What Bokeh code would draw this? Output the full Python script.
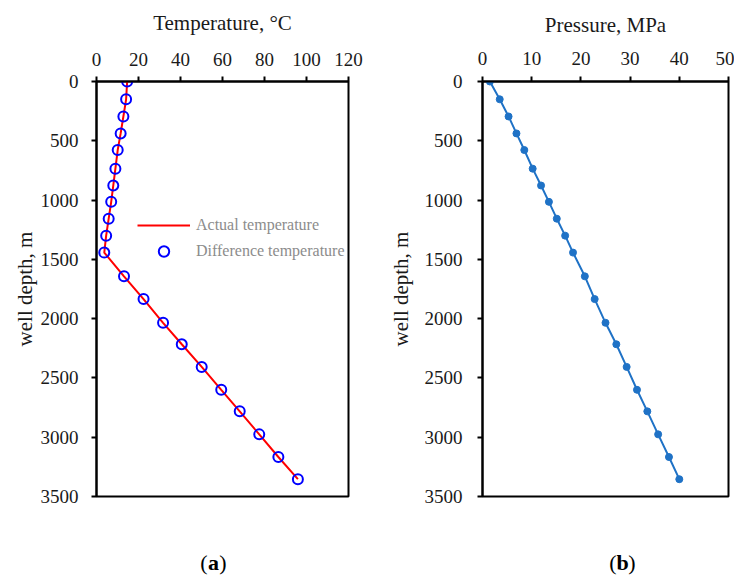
from bokeh.plotting import figure
from bokeh.layouts import row, column
from bokeh.models import Range1d, LinearAxis, FixedTicker, Legend, LegendItem
from bokeh.core.properties import value
from bokeh.embed import file_html
from bokeh.resources import INLINE

# ---- data ----
depth = [0, 150, 295, 438, 578, 735, 877, 1015, 1157, 1300, 1443,
         1643, 1835, 2035, 2216, 2407, 2600, 2782, 2976, 3167, 3354]
actual_temp = [14.6, 14.1, 12.8, 11.5, 10.1, 9.0, 8.0, 7.0, 5.8, 4.6, 3.7,
               13.1, 22.4, 31.7, 40.6, 50.1, 59.4, 68.2, 77.5, 86.6, 95.9]
diff_temp = [14.6, 14.1, 12.8, 11.5, 10.1, 9.0, 8.0, 7.0, 5.8, 4.6, 3.7,
             13.1, 22.4, 31.7, 40.6, 50.1, 59.4, 68.2, 77.5, 86.6, 95.9]
pressure = [1.5, 3.5, 5.3, 6.9, 8.5, 10.2, 11.9, 13.5, 15.1, 16.8, 18.4,
            20.8, 22.8, 25.0, 27.2, 29.3, 31.4, 33.5, 35.7, 37.9, 40.0]
temp_ticks = [0, 20, 40, 60, 80, 100, 120]
pres_ticks = [0, 10, 20, 30, 40, 50]
depth_ticks = [0, 500, 1000, 1500, 2000, 2500, 3000, 3500]

FONT = "Liberation Serif"


def base_fig(width, height, xmax, xticks, xlabel, mb_left, mb_right, mb_top, mb_bottom,
             xtick_standoff, xlabel_standoff, ytick_standoff, ylabel_standoff):
    p = figure(width=width, height=height, output_backend="svg", toolbar_location=None,
               x_range=Range1d(0, xmax), y_range=Range1d(3500, 0),
               x_axis_location=None, y_axis_location=None,
               min_border_left=mb_left, min_border_right=mb_right,
               min_border_top=mb_top, min_border_bottom=mb_bottom)
    p.grid.visible = False
    p.outline_line_color = "black"
    p.outline_line_width = 2
    p.outline_line_alpha = 1
    p.background_fill_color = "white"
    p.border_fill_color = "white"

    xa = LinearAxis(ticker=FixedTicker(ticks=xticks), axis_label=xlabel)
    ya = LinearAxis(ticker=FixedTicker(ticks=depth_ticks), axis_label="well depth, m")
    for ax in (xa, ya):
        ax.axis_line_color = "black"
        ax.axis_line_width = 2
        ax.major_tick_line_color = "black"
        ax.major_tick_line_width = 2
        ax.major_tick_in = 0
        ax.major_tick_out = 5
        ax.minor_tick_line_color = None
        ax.major_label_text_font = FONT
        ax.major_label_text_font_size = "19px"
        ax.major_label_text_color = "#1a1a1a"
        ax.axis_label_text_font = FONT
        ax.axis_label_text_font_size = "21px"
        ax.axis_label_text_font_style = "normal"
        ax.axis_label_text_color = "#1a1a1a"
    xa.major_label_standoff = xtick_standoff
    xa.axis_label_standoff = xlabel_standoff
    ya.major_label_standoff = ytick_standoff
    ya.axis_label_standoff = ylabel_standoff
    p.add_layout(xa, "above")
    p.add_layout(ya, "left")
    return p


def caption_fig(width, height, cx, cy, letter):
    c = figure(width=width, height=height, output_backend="svg", toolbar_location=None,
               x_range=Range1d(0, width), y_range=Range1d(height, 0),
               x_axis_location=None, y_axis_location=None,
               min_border=0, min_border_left=0, min_border_right=0,
               min_border_top=0, min_border_bottom=0)
    c.grid.visible = False
    c.outline_line_color = None
    parts = [("(", "normal", -9.5), (letter, "bold", 0), (")", "normal", 9.5)]
    for txt, style, off in parts:
        c.text(x=[cx], y=[cy], text=[txt], x_offset=off, text_font=value(FONT),
               text_font_size="22px", text_font_style=style,
               text_align="center", text_baseline="middle", text_color="black")
    return c


# ---- (a) temperature ----
pa = base_fig(368, 520, 120, temp_ticks, "Temperature, °C", 96, 20, 81, 14, 11, 15, 13, 1)
r_line = pa.line(actual_temp, depth, line_color="#ff0000", line_width=2)
r_circ = pa.scatter(diff_temp, depth, marker="circle", size=10, fill_color=None,
                    line_color="#0000ff", line_width=2)
leg = Legend(items=[LegendItem(label="Actual temperature", renderers=[r_line]),
                    LegendItem(label="Difference temperature", renderers=[r_circ])],
             location=(41, 232), padding=0, margin=0, spacing=0,
             glyph_width=53, glyph_height=26, label_height=26, label_standoff=6,
             label_text_font=FONT, label_text_font_size="16px",
             label_text_color="#8c8c8c",
             background_fill_alpha=0, border_line_alpha=0)
pa.add_layout(leg)

# ---- (b) pressure ----
pb = base_fig(366, 520, 50, pres_ticks, "Pressure, MPa", 114, 6, 77, 24, 12, 12, 15, 9)
pb.line(pressure, depth, line_color="#1f72c6", line_width=2)
pb.scatter(pressure, depth, marker="circle", size=7, fill_color="#1f72c6",
           line_color="#1f72c6")

ca = caption_fig(368, 55, 213, 42, "a")
cb = caption_fig(366, 55, 254, 42, "b")

layout = column(row(pa, pb), row(ca, cb))
open("out.html", "w").write(file_html(layout, INLINE))
